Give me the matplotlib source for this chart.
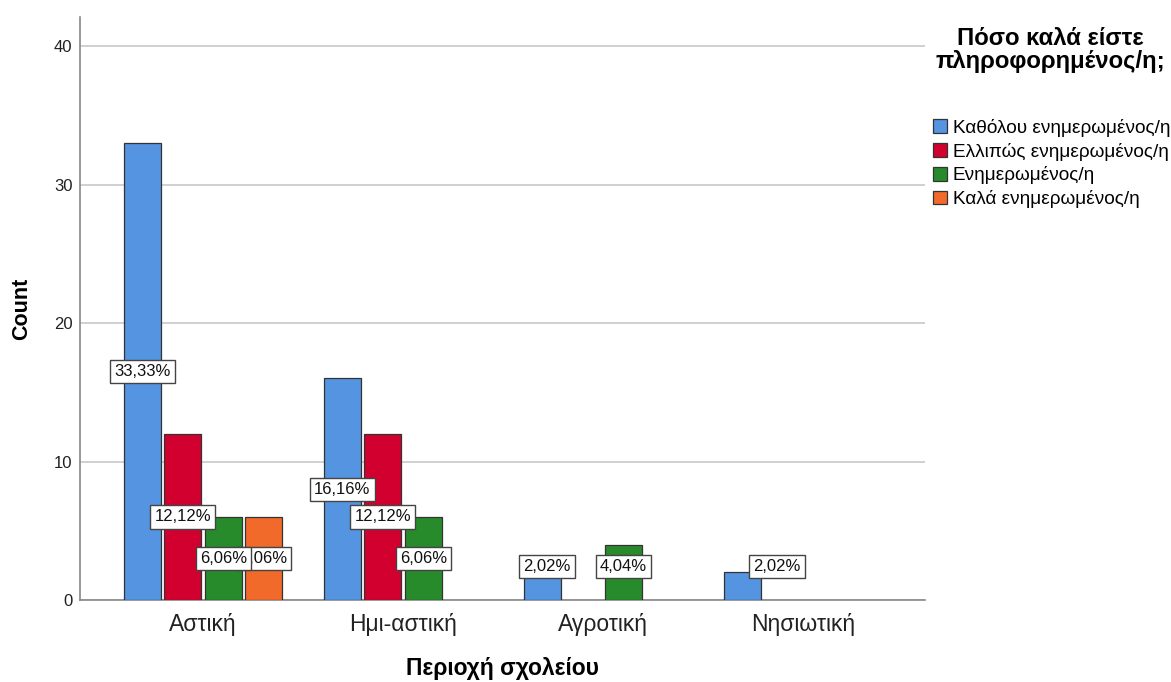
import matplotlib
matplotlib.use("Agg")
import matplotlib.pyplot as plt
import numpy as np
from matplotlib.patches import Patch

plt.rcParams['font.family'] = ['Liberation Sans', 'DejaVu Sans']

categories = ["Αστική", "Ημι-αστική", "Αγροτική", "Νησιωτική"]
series_names = ["Καθόλου ενημερωμένος/η", "Ελλιπώς ενημερωμένος/η",
                "Ενημερωμένος/η", "Καλά ενημερωμένος/η"]
counts = {
    "Καθόλου ενημερωμένος/η": [33, 16, 2, 2],
    "Ελλιπώς ενημερωμένος/η": [12, 12, 0, 0],
    "Ενημερωμένος/η": [6, 6, 4, 0],
    "Καλά ενημερωμένος/η": [6, 0, 0, 0],
}
colors = ["#5594E0", "#D2002F", "#278A2B", "#F26A2A"]
yticks = [0, 10, 20, 30, 40]

W, H = 1171, 682
fig = plt.figure(figsize=(W / 100, H / 100), dpi=100)
ax = fig.add_axes([80 / W, (H - 600) / H, 845 / W, 583 / H])

total = sum(sum(v) for v in counts.values())
x = np.arange(len(categories))
pitch = 0.2025
bw = 0.185
nser = len(series_names)

# label tweaks (pixel offsets) for crowded small bars
label_dx_px = {(2, 0): 5, (3, 0): 35}
min_label_y = 2.4

for si, name in enumerate(series_names):
    vals = np.array(counts[name], dtype=float)
    xs = x + (si - (nser - 1) / 2) * pitch
    mask = vals > 0
    ax.bar(xs[mask], vals[mask], width=bw, color=colors[si],
           edgecolor="#333333", linewidth=0.9, zorder=3)
    for ci in range(len(categories)):
        v = vals[ci]
        if v <= 0:
            continue
        pct = v / total * 100
        txt = f"{pct:.2f}%".replace(".", ",")
        ly = max(v / 2, min_label_y)
        dx = label_dx_px.get((ci, si), 0) * 0.72
        ax.annotate(txt, (xs[ci], ly), xytext=(dx, 0), textcoords="offset points",
                    ha="center", va="center", fontsize=12, color="#111111",
                    zorder=20 - si,
                    bbox=dict(boxstyle="square,pad=0.25", fc="white",
                              ec="#444444", lw=1.0))

ax.set_xlim(-0.615, 3.61)
ax.set_ylim(0, 42.1)
ax.set_yticks(yticks)
ax.set_xticks(x)
ax.set_xticklabels(categories, fontsize=16.5, color="#222222")
ax.tick_params(axis="y", length=0, pad=5.5, labelsize=12, labelcolor="#222222")
ax.tick_params(axis="x", length=0, pad=9)
ax.yaxis.grid(True, color="#C8C8C8", linewidth=1.2, zorder=0)
ax.set_axisbelow(True)
for s in ["top", "right"]:
    ax.spines[s].set_visible(False)
for s in ["left", "bottom"]:
    ax.spines[s].set_color("#888888")
    ax.spines[s].set_linewidth(1.2)

ax.set_ylabel("Count", fontsize=15.5, fontweight="bold")
ax.yaxis.set_label_coords((32 - 80) / 845, 0.5)
ax.set_xlabel("Περιοχή σχολείου", fontsize=16.5, fontweight="bold")
ax.xaxis.set_label_coords(0.5, -(657 - 600) / 583)

fig.text(1050 / W, 1 - 50 / H, "Πόσο καλά είστε\nπληροφορημένος/η;",
         ha="center", va="center", fontsize=17.2, fontweight="bold",
         multialignment="center", linespacing=1.05)

handles = [Patch(facecolor=c, edgecolor="#333333", linewidth=0.9) for c in colors]
leg = fig.legend(handles, series_names, loc="upper left",
                 bbox_to_anchor=(933 / W, 1 - 119 / H),
                 frameon=False, fontsize=13.7, handlelength=0.75, handleheight=0.75,
                 handletextpad=0.3, labelspacing=0.3, borderaxespad=0,
                 borderpad=0)

fig.savefig("out.png", dpi=100)
